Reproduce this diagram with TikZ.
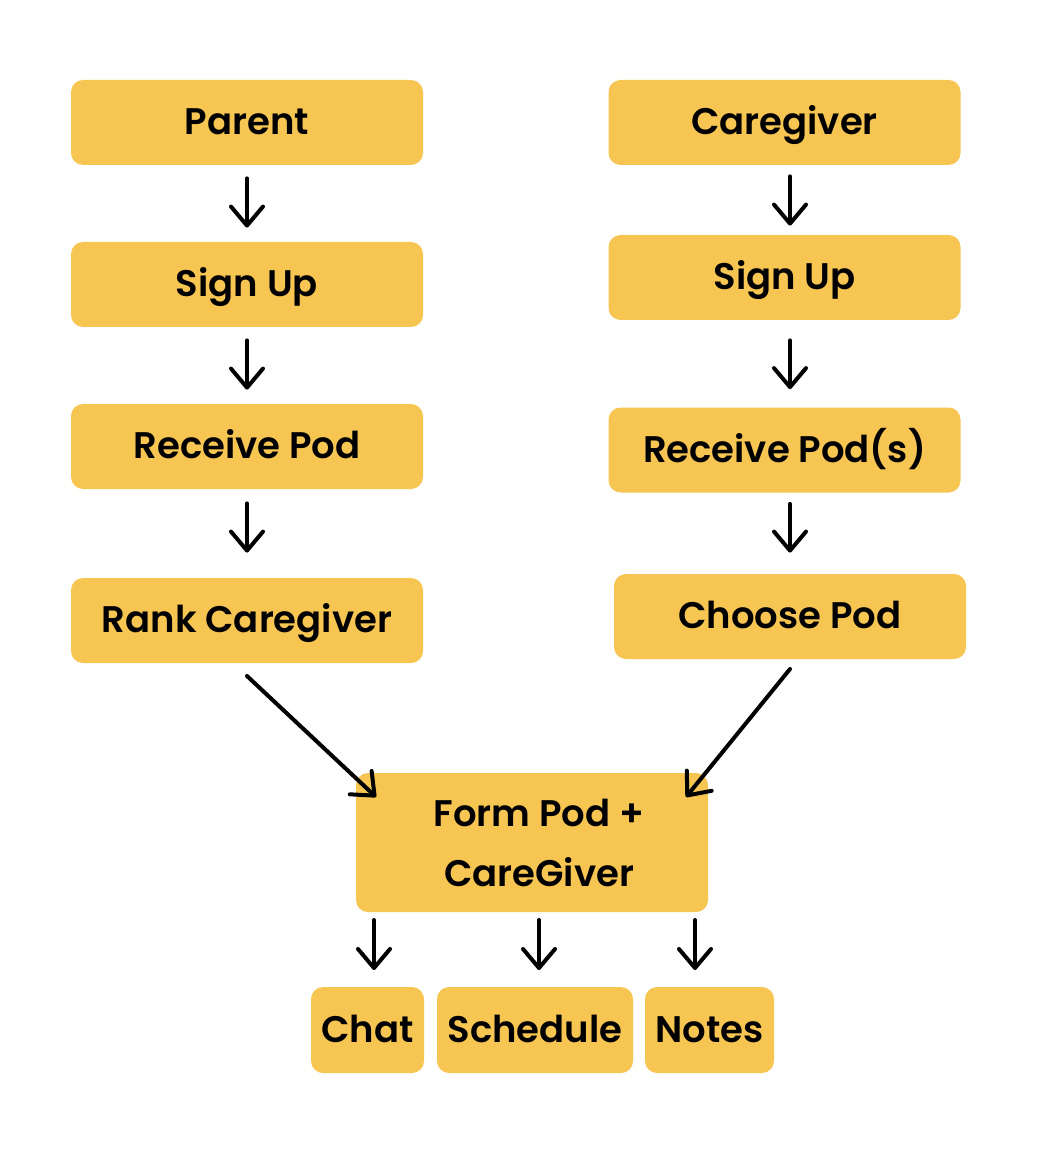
\documentclass[tikz,border=0pt]{standalone}
\usepackage{fontspec}
\setmainfont{Poppins}[UprightFont=* SemiBold, BoldFont=* Bold]
\usetikzlibrary{arrows.meta}
\definecolor{boxy}{HTML}{F6C552}
\tikzset{
  box/.style={fill=boxy, rounded corners=6pt, inner sep=0pt, align=center,
    font=\fontsize{18.5}{30}\selectfont, text=black},
  onebox/.style={box, text height=14pt, text depth=2pt},
  colbox/.style={onebox, minimum width=176pt, minimum height=42.5pt},
  arr/.style={line width=2pt, line cap=round, -{Straight Barb[length=9.5pt, width=16pt, line width=2pt, round]}}
}
\begin{document}
\begin{tikzpicture}[x=0.5pt, y=-0.5pt]
\useasboundingbox (0,0) rectangle (1042,1154);
% left column
\node[colbox] (p1) at (247,122.5) {Parent};
\node[colbox] (p2) at (247,284.5) {Sign Up};
\node[colbox] (p3) at (247,446.5) {Receive Pod};
\node[colbox] (p4) at (247,620.5) {Rank Caregiver};
% right column
\node[colbox] (c1) at (784.5,122.5) {Caregiver};
\node[colbox] (c2) at (784.5,277.5) {Sign Up};
\node[colbox] (c3) at (784.5,450) {Receive Pod(s)};
\node[colbox] (c4) at (790,616.5) {Choose Pod};
% merge
\node[box, minimum width=176pt, minimum height=69.5pt] (f) at (532,842.5) {\hspace*{7pt}Form Pod +\\\hspace*{7pt}CareGiver};
% bottom
\node[onebox, minimum width=56.5pt, minimum height=43pt] (chat) at (367.5,1030) {Chat};
\node[onebox, minimum width=98pt, minimum height=43pt] (sched) at (535,1030) {Schedule};
\node[onebox, minimum width=64.5pt, minimum height=43pt] (notes) at (709.5,1030) {Notes};
% arrows left
\draw[arr, shorten <=6.5pt, shorten >=7pt] (p1.south) -- (p2.north);
\draw[arr, shorten <=6.5pt, shorten >=7pt] (p2.south) -- (p3.north);
\draw[arr, shorten <=7pt, shorten >=12.5pt] (p3.south) -- (p4.north);
% arrows right
\draw[arr, shorten <=5.5pt, shorten >=4.5pt] ([xshift=2.75pt]c1.south) -- ([xshift=2.75pt]c2.north);
\draw[arr, shorten <=10pt, shorten >=9pt] ([xshift=2.75pt]c2.south) -- ([xshift=2.75pt]c3.north);
\draw[arr, shorten <=5.5pt, shorten >=10.5pt] ([xshift=2.75pt]c3.south) -- (c4.north);
% diagonals
\coordinate (fl) at (376,797);
\coordinate (fr) at (686,797);
\coordinate (pl) at (247,676);
\coordinate (cr) at (790,669);
\draw[arr] (pl) -- (fl);
\draw[arr] (cr) -- (fr);
% bottom arrows
\coordinate (b1s) at (374,920); \coordinate (b1e) at (374,970);
\coordinate (b2s) at (539,920); \coordinate (b2e) at (539,970);
\coordinate (b3s) at (695,920); \coordinate (b3e) at (695,970);
\draw[arr] (b1s) -- (b1e);
\draw[arr] (b2s) -- (b2e);
\draw[arr] (b3s) -- (b3e);
\end{tikzpicture}
\end{document}
